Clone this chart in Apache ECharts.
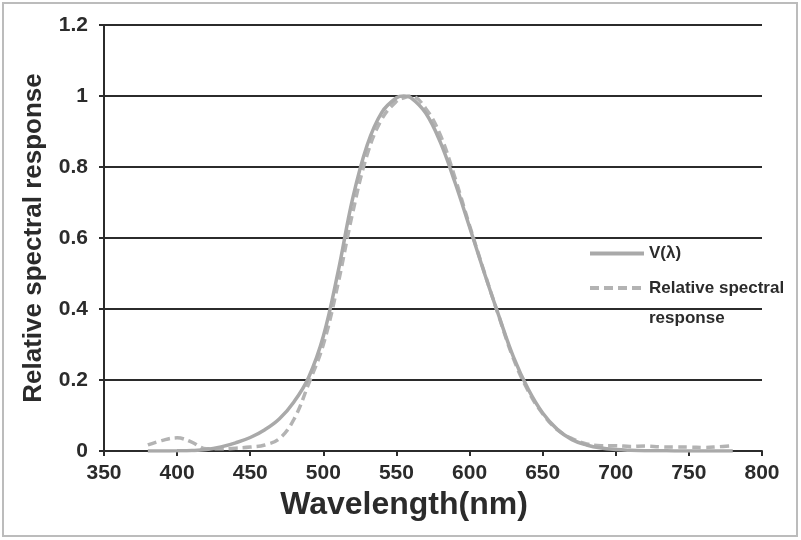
<!DOCTYPE html>
<html>
<head>
<meta charset="utf-8">
<script src="https://cdn.jsdelivr.net/npm/echarts@6/dist/echarts.min.js"></script>
<style>
  html, body { margin: 0; padding: 0; background: #fff; }
  #chart { width: 801px; height: 540px; }
</style>
</head>
<body>
<div id="chart"></div>
<script>
// wavelengths in nm
var wavelengths = [380, 390, 400, 410, 420, 430, 440, 450, 460, 470, 480, 490, 500, 510, 520, 530, 540, 550, 555, 560,
                   570, 580, 590, 600, 610, 620, 630, 640, 650, 660, 670, 680, 690, 700, 710, 720, 730, 740, 750, 760, 770, 780];
// photopic luminosity V(λ)
var vLambda = [0.0001, 0.0002, 0.0004, 0.0012, 0.004, 0.0116, 0.023, 0.038, 0.06, 0.091, 0.139, 0.208, 0.323, 0.503, 0.71, 0.862, 0.954, 0.995, 1.0, 0.995,
               0.952, 0.87, 0.757, 0.631, 0.503, 0.381, 0.265, 0.175, 0.107, 0.061, 0.032, 0.017, 0.0082, 0.0041, 0.0021, 0.001, 0.0005, 0.0003, 0.0001, 0.0001, 0.0001, 0.0001];
var relResponse = [0.017, 0.03, 0.037, 0.025, 0.006, 0.006, 0.008, 0.011, 0.017, 0.035, 0.09, 0.19, 0.30, 0.47, 0.67, 0.835, 0.935, 0.985, 0.995, 1.0,
                   0.965, 0.89, 0.77, 0.635, 0.505, 0.38, 0.26, 0.17, 0.105, 0.06, 0.035, 0.02, 0.015, 0.015, 0.013, 0.014, 0.012, 0.011, 0.011, 0.01, 0.012, 0.015];

var xTicks = { min: 350, max: 800, interval: 50 };
var yTicks = { min: 0, max: 1.2, interval: 0.2 };

function pairs(xs, ys) {
    return xs.map(function (x, i) { return [x, ys[i]]; });
}

var font = 'Liberation Sans, Arial, sans-serif';
var dark = '#2b2b2b';

var legendBase = {
    left: 588,
    padding: 0,
    itemWidth: 54, itemHeight: 14,
    itemStyle: { opacity: 0 },
    lineStyle: { width: 4 }
};

var option = {
    animation: false,
    backgroundColor: '#fff',
    textStyle: { fontFamily: font },
    graphic: [{
        type: 'rect',
        shape: { x: 3, y: 3, width: 794, height: 533 },
        style: { fill: 'none', stroke: '#bcbcbc', lineWidth: 2 },
        silent: true
    }],
    grid: { left: 104, right: 39, top: 25, bottom: 89 },
    legend: [
        Object.assign({}, legendBase, {
            data: ['V(λ)'],
            top: 245,
            textStyle: { fontFamily: font, fontSize: 17, fontWeight: 'bold', color: dark }
        }),
        Object.assign({}, legendBase, {
            data: ['Relative spectral response'],
            top: 243,
            // blank first line keeps "Relative spectral" level with the icon
            formatter: function () { return '\nRelative spectral\nresponse'; },
            textStyle: { fontFamily: font, fontSize: 17, fontWeight: 'bold', color: dark, lineHeight: 30 }
        })
    ],
    xAxis: {
        type: 'value',
        min: xTicks.min, max: xTicks.max, interval: xTicks.interval,
        name: 'Wavelength(nm)',
        nameLocation: 'middle',
        nameGap: 30,
        nameTextStyle: { fontFamily: font, fontSize: 32, fontWeight: 'bold', color: dark, padding: [0, 58, 0, 0] },
        axisLine: { lineStyle: { color: dark, width: 2 } },
        axisTick: { show: true, length: 5, lineStyle: { color: dark, width: 2 } },
        axisLabel: { margin: 12, fontFamily: font, fontSize: 21, fontWeight: 'bold', color: dark },
        splitLine: { show: false }
    },
    yAxis: {
        type: 'value',
        min: yTicks.min, max: yTicks.max, interval: yTicks.interval,
        name: 'Relative spectral response',
        nameLocation: 'middle',
        nameGap: 57,
        nameTextStyle: { fontFamily: font, fontSize: 26, fontWeight: 'bold', color: dark },
        axisLine: { show: true, lineStyle: { color: dark, width: 2 } },
        axisTick: { show: true, length: 5, lineStyle: { color: dark, width: 2 } },
        axisLabel: { margin: 16, fontFamily: font, fontSize: 21, fontWeight: 'bold', color: dark },
        splitLine: { show: true, lineStyle: { color: dark, width: 2 } }
    },
    series: [
        {
            name: 'V(λ)',
            type: 'line',
            smooth: 0.4,
            symbol: 'none',
            data: pairs(wavelengths, vLambda),
            lineStyle: { color: '#a9a9a9', width: 3.5 },
            itemStyle: { color: '#a9a9a9' },
            z: 3
        },
        {
            name: 'Relative spectral response',
            type: 'line',
            smooth: 0.4,
            symbol: 'none',
            data: pairs(wavelengths, relResponse),
            lineStyle: { color: '#b3b3b3', width: 3.5, type: [9, 5] },
            itemStyle: { color: '#b3b3b3' },
            z: 2
        }
    ]
};

echarts.init(document.getElementById('chart')).setOption(option);
</script>
</body>
</html>
